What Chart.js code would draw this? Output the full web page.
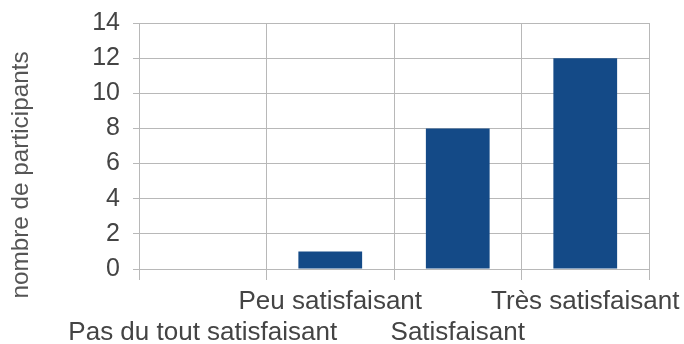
<!DOCTYPE html>
<html>
<head>
<meta charset="utf-8">
<script src="https://cdn.jsdelivr.net/npm/chart.js@4"></script>
<style>
  html, body { margin: 0; padding: 0; background: #fff; }
  #wrap { width: 684px; height: 344px; }
</style>
</head>
<body>
<div id="wrap"><canvas id="chart" width="684" height="344"></canvas></div>
<script>
// data
const categories = ['Pas du tout satisfaisant', 'Peu satisfaisant', 'Satisfaisant', 'Très satisfaisant'];
const participants = [0, 1, 8, 12];
const yTicks = [0, 2, 4, 6, 8, 10, 12, 14];
const yTitle = 'nombre de participants';

// labels alternate between two rows, like the original
const staggered = categories.map((c, i) => i % 2 === 0 ? ['', c] : [c, '']);

const gridColor = '#b8b8b8';
const textColor = '#444444';
const font = 'Liberation Sans';

// y title is centered on the whole canvas height, not the plot area
const yTitlePlugin = {
  id: 'yTitle',
  afterDraw(chart) {
    const ctx = chart.ctx;
    ctx.save();
    ctx.translate(21, 175);
    ctx.rotate(-Math.PI / 2);
    ctx.font = '24.3px "' + font + '"';
    ctx.fillStyle = '#555555';
    ctx.textAlign = 'center';
    ctx.textBaseline = 'middle';
    ctx.fillText(yTitle, 0, 0);
    ctx.restore();
  }
};

new Chart(document.getElementById('chart'), {
  type: 'bar',
  data: {
    labels: staggered,
    datasets: [{
      data: participants,
      backgroundColor: '#144a87',
      categoryPercentage: 1,
      barPercentage: 0.5
    }]
  },
  options: {
    responsive: false,
    animation: false,
    layout: { padding: { left: 93, right: 35, top: 23, bottom: 0 } },
    plugins: { legend: { display: false }, tooltip: { enabled: false } },
    scales: {
      x: {
        grid: { color: gridColor, tickLength: 11, offset: true },
        border: { color: gridColor },
        ticks: {
          color: textColor,
          font: { family: font, size: 26, lineHeight: 1.2 },
          padding: 6,
          maxRotation: 0,
          autoSkip: false
        },
        afterFit: s => { s.height = 75; s.paddingLeft = 0; s.paddingRight = 0; }
      },
      y: {
        min: 0,
        max: 14,
        afterBuildTicks: s => { s.ticks = yTicks.map(v => ({ value: v })); },
        grid: { color: gridColor, tickLength: 6 },
        border: { color: gridColor },
        ticks: {
          color: textColor,
          font: { family: font, size: 25 },
          padding: 13
        },
        afterFit: s => { s.width = 46; s.paddingTop = 0; s.paddingBottom = 0; }
      }
    }
  },
  plugins: [yTitlePlugin]
});
</script>
</body>
</html>
